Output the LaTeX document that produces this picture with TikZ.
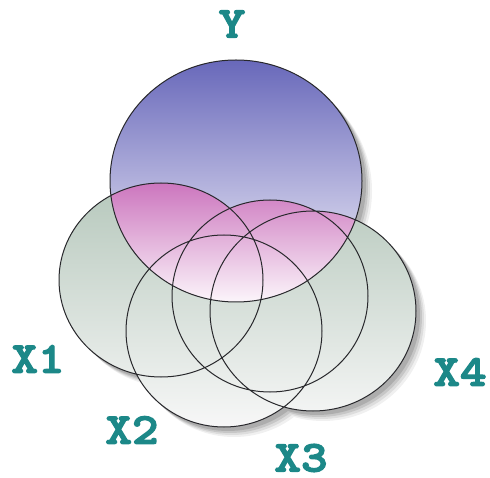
\documentclass[tikz,border=0pt]{standalone}
\usepackage{fontspec}
\newfontfamily\labelfont{lmmonolt10-bold.otf}[FakeBold=3, FakeStretch=1.15]

\definecolor{ytop}{RGB}{104,104,186}
\definecolor{ymid}{RGB}{204,204,236}
\definecolor{ybot}{RGB}{250,248,253}
\definecolor{ptop}{RGB}{204,118,190}
\definecolor{pbot}{RGB}{252,246,251}
\definecolor{xtop}{RGB}{182,200,188}
\definecolor{xbot}{RGB}{247,247,247}
\definecolor{linecol}{RGB}{40,40,44}
\definecolor{labelcol}{RGB}{28,136,136}

% the five sets, in pixel units
\def\setY{(236,181) ellipse [x radius=126pt, y radius=121pt]}
\def\setXa{(161,280) ellipse [x radius=102pt, y radius=97pt]}
\def\setXb{(224,331) ellipse [x radius=98pt, y radius=96pt]}
\def\setXc{(270,296) ellipse [x radius=98pt, y radius=96pt]}
\def\setXd{(313,311) ellipse [x radius=103pt, y radius=100pt]}

\begin{document}
\begin{tikzpicture}[x=1pt, y=-1pt,
  setline/.style={draw=linecol, line width=1pt},
  setlabel/.style={text=labelcol, inner sep=0pt, font=\labelfont\fontsize{44}{44}\selectfont}]
  \useasboundingbox[fill=white] (0,0) rectangle (490,478);
  % drop shadow
  \foreach \d/\o in {10/0.06, 8/0.08, 6/0.1, 4/0.12}
    \fill[black, opacity=\o, xshift=\d pt, yshift=-\d pt] \setY \setXa \setXb \setXc \setXd;
  % fills
  \shade[top color=xtop, bottom color=xbot] \setXa \setXb \setXc \setXd;
  \shade[top color=ytop, middle color=ymid, bottom color=ybot] \setY;
  \begin{scope}
    \clip \setY;
    \clip \setXa \setXb \setXc \setXd;
    \shade[top color=ptop, bottom color=pbot] (100,183) rectangle (370,303);
  \end{scope}
  % outlines
  \draw[setline] \setY \setXa \setXb \setXc \setXd;
  % labels
  \node[setlabel] (labY) at (232,24) {Y};
  \node[setlabel] (labXa) at (38,359) {X1};
  \node[setlabel] (labXb) at (132,430) {X2};
  \node[setlabel] (labXc) at (301,458) {X3};
  \node[setlabel] (labXd) at (460,372) {X4};
\end{tikzpicture}
\end{document}
